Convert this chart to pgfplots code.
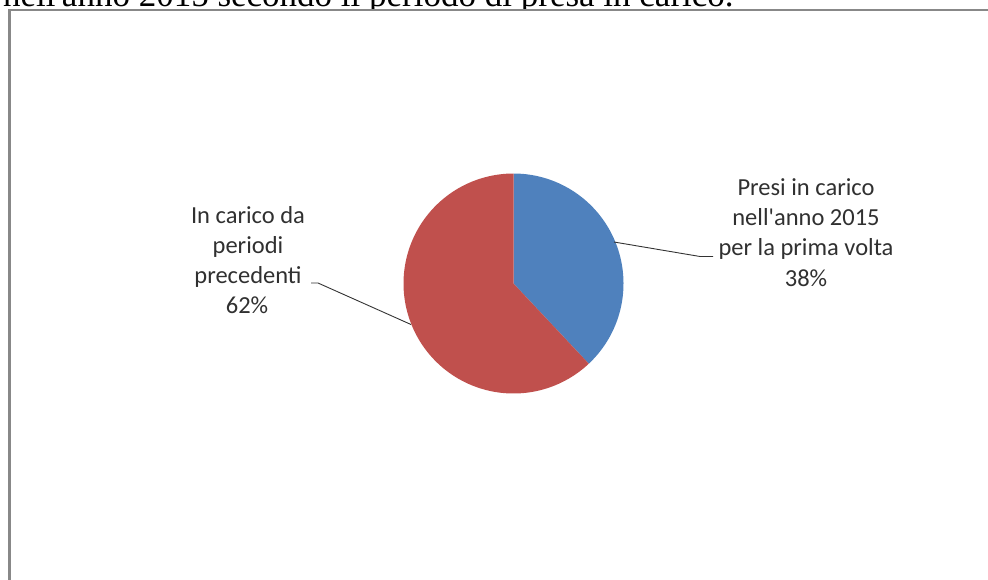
\documentclass[border=0pt]{standalone}
\usepackage{pgfplots}
\pgfplotsset{compat=1.18}
\usepackage{fontspec}
\setmainfont{Carlito}[Ligatures=TeXOff]
\newfontfamily\titlefont{Liberation Serif}[Ligatures=TeXOff]
\definecolor{pieblue}{HTML}{4F81BD}
\definecolor{piered}{HTML}{C0504D}
\definecolor{framegray}{HTML}{888888}
\definecolor{lbl}{HTML}{303030}
\begin{document}
\begin{tikzpicture}
% title line (partly cut off at the top)
\begin{scope}
\clip (0pt,569pt) rectangle (988pt,600pt);
\node[anchor=base west, inner sep=0pt, font=\titlefont\fontsize{35}{40}\selectfont] at (3pt,572pt) {nell'anno 2015 secondo il periodo di presa in carico.};
\end{scope}
\begin{axis}[
  at={(0,0)}, anchor=south west,
  x=1pt, y=1pt, scale only axis,
  xmin=0, xmax=988, ymin=0, ymax=579,
  y dir=reverse, hide axis, clip=false,
]
% pie slices: values 38 (blue) and 62 (red), start at top, clockwise
\addplot[fill=pieblue, draw=none, domain=0:38, samples=120, variable=\t]
  ({513.5+110*cos(90-3.6*\t)}, {283.5-110*sin(90-3.6*\t)}) -- (axis cs:513.5,283.5) -- cycle;
\addplot[fill=piered, draw=none, domain=38:100, samples=180, variable=\t]
  ({513.5+110*cos(90-3.6*\t)}, {283.5-110*sin(90-3.6*\t)}) -- (axis cs:513.5,283.5) -- cycle;
% leader lines
\draw[black!80, line width=0.9pt] (axis cs:614,242) -- (axis cs:700,256.5) -- (axis cs:713,256.5);
\draw[black!80, line width=0.9pt] (axis cs:411,324.5) -- (axis cs:318,283) -- (axis cs:311,283);
% labels
\begin{scope}[every node/.style={anchor=base, inner sep=0pt, text=lbl, font=\fontsize{24.5}{30}\selectfont}]
\node at (axis cs:806,195) {Presi in carico};
\node at (axis cs:806,225) {nell'anno 2015};
\node at (axis cs:806,255) {per la prima volta};
\node at (axis cs:806,286) {38\%};
\node at (axis cs:248,223) {In carico da};
\node at (axis cs:248,253) {periodi};
\node at (axis cs:248,283) {precedenti};
\node at (axis cs:247,313) {62\%};
\end{scope}
\end{axis}
% chart frame
\draw[framegray, line width=2.5pt, line join=miter] (9.3pt,-10pt) -- (9.3pt,569pt) -- (1000pt,569pt);
\pgfresetboundingbox
\useasboundingbox (0,0) rectangle (988pt,579pt);
\end{tikzpicture}
\end{document}
